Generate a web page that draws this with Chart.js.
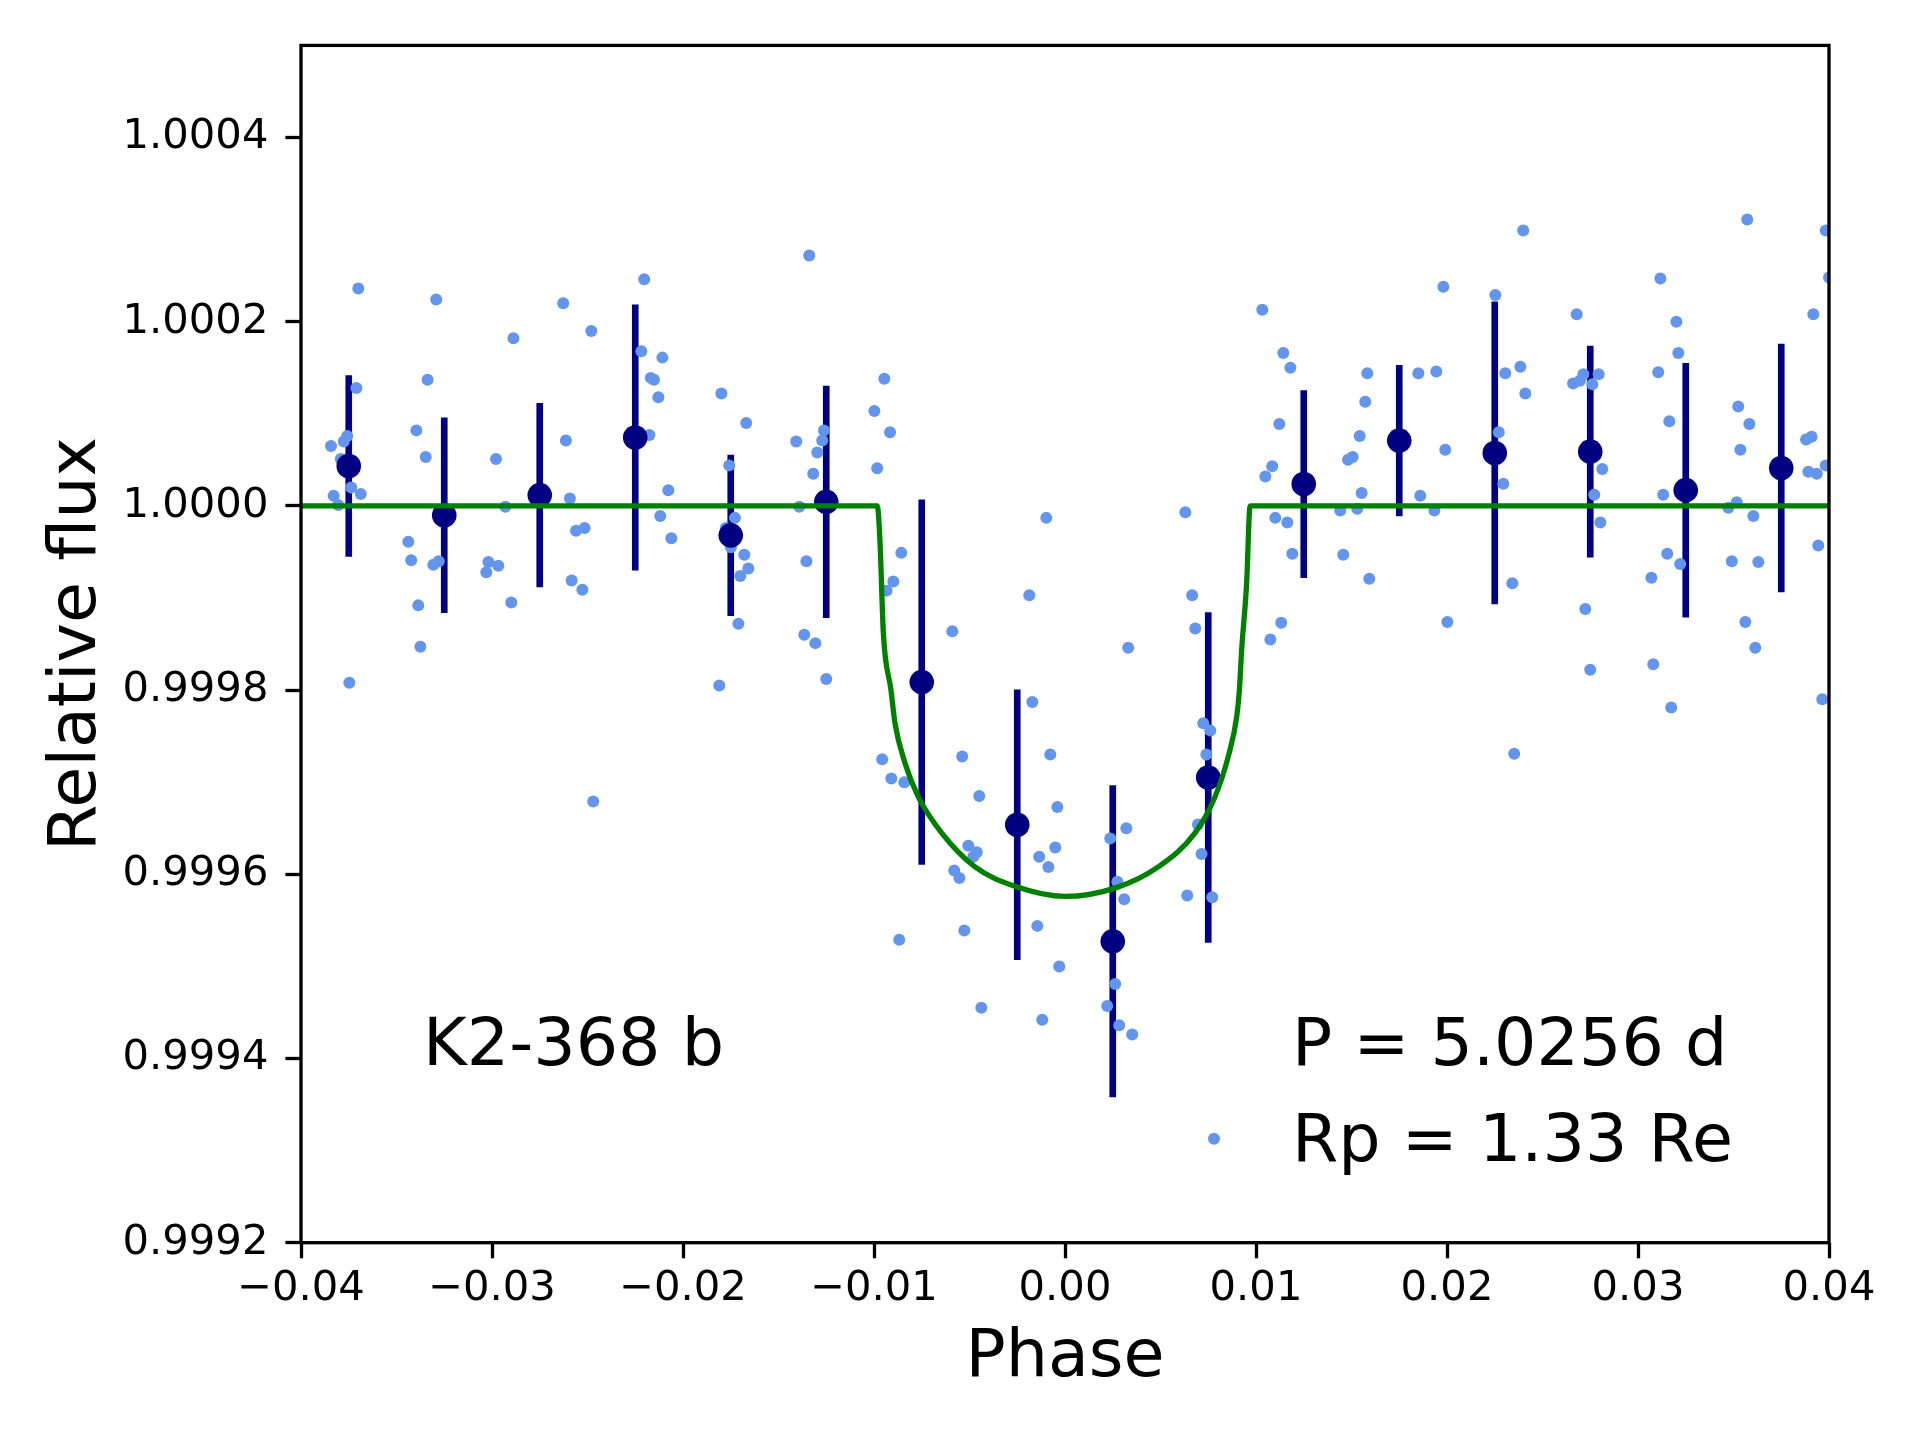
<!DOCTYPE html>
<html>
<head>
<meta charset="utf-8">
<title>K2-368 b</title>
<script src="https://cdn.jsdelivr.net/npm/chart.js@4.4.0/dist/chart.umd.min.js"></script>
<style>
  html, body { margin: 0; padding: 0; background: #fff; }
  canvas { display: block; width: 1920px; height: 1440px; }
</style>
</head>
<body>
<canvas id="lc" width="1920" height="1440"></canvas>
<script>
// unbinned phase-folded points
const phase = [
  -0.03700,-0.03710,-0.03758,-0.03776,-0.03843,-0.03792,-0.03737,-0.03687,-0.03829,-0.03805,
  -0.03292,-0.03337,-0.03396,-0.03347,-0.02888,-0.02979,-0.02930,-0.02627,-0.02613,-0.02592,
  -0.02480,-0.02203,-0.02218,-0.02108,-0.02169,-0.02152,-0.02129,-0.02176,-0.02077,-0.02119,
  -0.01799,-0.01669,-0.01758,-0.01728,-0.01339,-0.01407,-0.01262,-0.01271,-0.01297,-0.01318,
  -0.01391,-0.00946,-0.00998,-0.00983,-0.00916,
  0.01033,0.01143,0.01180,0.01122,0.01085,0.01049,0.01101,0.01164,
  0.01583,0.01572,0.01543,0.01506,0.01482,0.01553,0.01441,0.01530,
  0.01981,0.01850,0.01944,0.01991,0.01860,0.01934,
  0.02399,0.02253,0.02305,0.02384,0.02410,0.02271,0.02295,
  0.02679,0.02714,0.02660,0.02696,0.02794,0.02761,0.02813,0.02771,0.02803,
  0.03117,0.03201,0.03211,0.03106,0.03164,0.03132,
  0.03572,0.03525,0.03583,0.03536,0.03473,0.03517,0.03604,
  0.03983,0.04000,0.03918,0.03880,0.03909,0.03983,0.03892,0.03936,
  -0.03438,-0.03423,-0.03386,-0.03375,-0.03747,-0.03307,-0.03279,-0.03019,-0.02967,-0.03030,
  -0.02899,-0.02560,-0.02515,-0.02583,-0.02527,-0.02470,-0.02061,
  -0.01776,-0.01749,-0.01679,-0.01658,-0.01700,-0.01710,-0.01810,-0.01354,-0.01365,-0.01307,
  -0.01250,-0.00857,-0.00899,-0.00934,-0.00098,-0.00187,-0.00590,-0.00957,-0.00909,-0.00841,
  -0.00538,-0.00449,-0.00171,-0.00077,-0.00040,-0.00051,
  0.00630,0.00666,0.00682,0.00331,0.00724,0.00761,0.00740,0.00696,0.00715,0.00321,
  0.00237,0.01190,0.01132,0.01075,0.01457,0.01593,0.02002,
  0.02342,0.02352,0.02724,0.02750,0.03153,0.03221,0.03070,0.03080,0.03174,0.03491,
  0.03630,0.03562,0.03614,0.03944,0.03965,
  -0.00506,-0.00462,-0.00480,-0.00580,-0.00553,-0.00527,-0.00868,-0.00438,-0.00135,-0.00087,
  -0.00145,-0.00030,-0.00119,0.00274,0.00310,0.00263,0.00221,0.00284,0.00352,0.00640,0.00771
];
const flux = [
  1.000236,1.000128,1.000076,1.000070,1.000065,1.000051,1.000020,1.000013,1.000011,1.000001,
  1.000224,1.000137,1.000082,1.000053,1.000182,1.000051,0.999999,1.000220,1.000071,1.000008,
  1.000190,1.000246,1.000168,1.000161,1.000139,1.000137,1.000118,1.000077,1.000017,0.999989,
  1.000122,1.000090,1.000044,0.999987,1.000272,1.000070,1.000082,1.000071,1.000058,1.000035,
  0.999999,1.000138,1.000103,1.000041,1.000080,
  1.000213,1.000166,1.000150,1.000089,1.000043,1.000032,0.999987,0.999982,
  1.000144,1.000113,1.000076,1.000053,1.000050,1.000014,0.999995,0.999997,
  1.000238,1.000144,1.000146,1.000061,1.000011,0.999995,
  1.000299,1.000229,1.000144,1.000151,1.000122,1.000080,1.000024,
  1.000208,1.000143,1.000133,1.000136,1.000143,1.000132,1.000040,1.000012,0.999982,
  1.000247,1.000200,1.000166,1.000145,1.000092,1.000012,
  1.000311,1.000108,1.000089,1.000061,0.999998,1.000004,0.999989,
  1.000299,1.000248,1.000208,1.000072,1.000075,1.000044,1.000037,1.000035,
  0.999961,0.999941,0.999892,0.999847,0.999808,0.999936,0.999940,0.999939,0.999935,0.999928,
  0.999895,0.999973,0.999976,0.999919,0.999909,0.999679,0.999965,
  0.999976,0.999955,0.999947,0.999932,0.999924,0.999872,0.999805,0.999940,0.999860,0.999851,
  0.999812,0.999949,0.999918,0.999908,0.999987,0.999903,0.999864,0.999725,0.999704,0.999700,
  0.999728,0.999685,0.999787,0.999730,0.999673,0.999629,
  0.999993,0.999903,0.999867,0.999846,0.999764,0.999756,0.999730,0.999654,0.999622,0.999650,
  0.999639,0.999948,0.999873,0.999855,0.999947,0.999921,0.999874,
  0.999916,0.999731,0.999888,0.999822,0.999948,0.999937,0.999922,0.999828,0.999781,0.999940,
  0.999939,0.999874,0.999846,0.999957,0.999790,
  0.999631,0.999624,0.999619,0.999604,0.999596,0.999539,0.999529,0.999455,0.999619,0.999608,
  0.999544,0.999500,0.999442,0.999592,0.999573,0.999481,0.999457,0.999436,0.999426,0.999577,0.999575
];

// binned means and their errors
const binPhase = [-0.0375,-0.0325,-0.0275,-0.0225,-0.0175,-0.0125,-0.0075,-0.0025,
                  0.0025,0.0075,0.0125,0.0175,0.0225,0.0275,0.0325,0.0375];
const binFlux  = [1.0000433,0.9999899,1.0000117,1.0000742,0.9999680,1.0000044,0.9998087,0.9996538,
                  0.9995272,0.9997051,1.0000237,1.0000709,1.0000575,1.0000589,1.0000171,1.0000411];
const binErr   = [0.0000982,0.0001058,0.0000996,0.0001440,0.0000873,0.0001258,0.0001980,0.0001465,
                  0.0001690,0.0001790,0.0001015,0.0000818,0.0001640,0.0001146,0.0001378,0.0001345];

// transit model
const modelPhase = [-0.04,-0.00983,-0.00969,-0.00951,-0.00911,-0.00890,-0.00838,-0.00768,-0.00646,-0.00471,-0.00262,
                    0,0.00262,0.00488,0.00681,0.00785,0.00855,0.00899,0.00913,0.00925,0.00951,0.00969,0.04];
const modelFlux  = [1.0,1.0,0.999963,0.999862,0.999800,0.999764,0.999721,0.999684,0.999645,0.999608,0.999587,
                    0.999576,0.999585,0.999608,0.999645,0.999684,0.999728,0.999771,0.999800,0.999844,0.999916,1.0,1.0];

const xTicks = [-0.04,-0.03,-0.02,-0.01,0.00,0.01,0.02,0.03,0.04];
const yTicks = [0.9992,0.9994,0.9996,0.9998,1.0000,1.0002,1.0004];

const planetName = 'K2-368 b';
const periodText = 'P = 5.0256 d';
const radiusText = 'Rp = 1.33 Re';

const FONT = 'DejaVu Sans';

const points = phase.map((p, i) => ({ x: p, y: flux[i] }));
const bins = binPhase.map((p, i) => ({ x: p, y: binFlux[i] }));
const bars = binPhase.map((p, i) => ({ x: p, y: [binFlux[i] - binErr[i], binFlux[i] + binErr[i]] }));
const model = modelPhase.map((p, i) => ({ x: p, y: modelFlux[i] }));

function fmtX(v) {
  if (Math.abs(v) < 1e-9) return '0.00';
  const s = Math.abs(v).toFixed(2);
  return v < 0 ? '\u2212' + s : s;
}

// box around the axes + the text labels
const frameAndText = {
  id: 'frameAndText',
  afterDraw(chart) {
    const { ctx, chartArea: a } = chart;
    ctx.save();
    ctx.strokeStyle = '#000';
    ctx.lineWidth = 3.3;
    ctx.strokeRect(a.left, a.top, a.right - a.left, a.bottom - a.top);

    ctx.fillStyle = '#000';
    ctx.font = '66.7px "' + FONT + '"';
    ctx.textAlign = 'left';
    ctx.textBaseline = 'alphabetic';
    ctx.fillText(planetName, a.left + 122, a.bottom - 178);
    ctx.fillText(periodText, a.left + 991, a.bottom - 178);
    ctx.fillText(radiusText, a.left + 991, a.bottom - 82);

    ctx.fillStyle = '#6495ED';
    ctx.beginPath();
    ctx.arc(a.left + 913, a.bottom - 104, 6, 0, Math.PI * 2);
    ctx.fill();
    ctx.restore();
  }
};

new Chart(document.getElementById('lc'), {
  type: 'scatter',
  data: {
    datasets: [
      {
        type: 'line', data: model, borderColor: '#008000', borderWidth: 5.3,
        pointRadius: 0, cubicInterpolationMode: 'monotone', fill: false, order: 0, clip: 0
      },
      {
        type: 'scatter', data: bins, pointBackgroundColor: '#000080', pointBorderWidth: 0,
        pointRadius: 12.3, order: 1, clip: 0
      },
      {
        type: 'scatter', data: points, pointBackgroundColor: '#6495ED', pointBorderWidth: 0,
        pointRadius: 6, order: 2, clip: 0
      },
      {
        type: 'bar', data: bars, backgroundColor: '#000080', borderWidth: 0,
        barThickness: 6, order: 3, clip: 0
      }
    ]
  },
  options: {
    responsive: false,
    devicePixelRatio: 1,
    animation: false,
    events: [],
    layout: { padding: { left: 0, top: 45.4, right: 91, bottom: 0 } },
    plugins: { legend: { display: false }, tooltip: { enabled: false } },
    scales: {
      x: {
        type: 'linear', min: -0.04, max: 0.04, offset: false,
        afterBuildTicks: s => { s.ticks = xTicks.map(v => ({ value: v })); },
        afterFit: s => { s.height = 197.3; },
        ticks: { callback: v => fmtX(v), color: '#000', padding: 6, maxRotation: 0,
                 font: { family: FONT, size: 41.7 } },
        grid: { offset: false, drawOnChartArea: false, drawTicks: true, tickLength: 15.6,
                tickWidth: 3.3, tickColor: '#000' },
        border: { display: false },
        title: { display: true, text: 'Phase', color: '#000',
                 font: { family: FONT, size: 66.7 }, padding: { top: 0, bottom: 41 } }
      },
      y: {
        type: 'linear', min: 0.9992, max: 1.0005,
        afterBuildTicks: s => { s.ticks = yTicks.map(v => ({ value: v })); },
        afterFit: s => { s.width = 301; },
        ticks: { callback: v => v.toFixed(4), color: '#000', padding: 17,
                 font: { family: FONT, size: 41.7 } },
        grid: { offset: false, drawOnChartArea: false, drawTicks: true, tickLength: 15.6,
                tickWidth: 3.3, tickColor: '#000' },
        border: { display: false },
        title: { display: true, text: 'Relative flux', color: '#000',
                 font: { family: FONT, size: 66.7 }, padding: { top: 38, bottom: 0 } }
      }
    }
  },
  plugins: [frameAndText]
});
</script>
</body>
</html>
